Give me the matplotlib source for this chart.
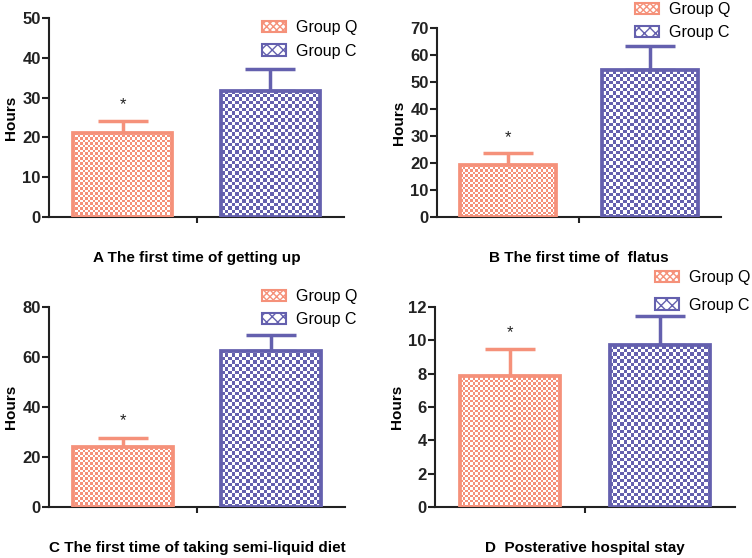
import numpy as np
import matplotlib
matplotlib.use('Agg')
import matplotlib.pyplot as plt
import matplotlib.patches as mpatches
from matplotlib.colors import to_rgb

plt.rcParams['font.family'] = ['Liberation Sans', 'DejaVu Sans']

groups = ['Group Q', 'Group C']
titles = ['A The first time of getting up',
          'B The first time of  flatus',
          'C The first time of taking semi-liquid diet',
          'D  Posterative hospital stay']
mean_q = [21.2, 19.3, 23.9, 7.88]
mean_c = [31.7, 54.4, 62.6, 9.72]
sd_q = [3.0, 4.3, 3.9, 1.6]
sd_c = [5.5, 9.0, 6.3, 1.72]
y_max = [50, 70, 80, 12]
y_step = [10, 10, 20, 2]

col_q = '#F5917A'
col_c = '#6460AE'

W, H = 752, 558
# axes boxes in pixels: left, top, right, bottom
boxes = [(49, 18, 344, 217), (437, 28, 721, 217),
         (49, 307, 345, 507), (435, 307, 735, 507)]
# legend anchor (pixel) and row spacing
leg_pos = [(262, 20), (635, 2), (262, 289), (655, 270)]
leg_space = [0.55, 0.5, 0.5, 0.8]


def checker(ax, rect, color, cell):
    x0, y0 = rect.get_x(), rect.get_y()
    w, h = rect.get_width(), rect.get_height()
    p0 = ax.transData.transform((x0, y0))
    p1 = ax.transData.transform((x0 + w, y0 + h))
    nx = max(1, int(round((p1[0] - p0[0]) / cell)))
    ny = max(1, int(round((p1[1] - p0[1]) / cell)))
    ii, jj = np.indices((ny, nx))
    img = np.ones((ny, nx, 3))
    img[(ii + jj) % 2 == 0] = to_rgb(color)
    ax.imshow(img, extent=(x0, x0 + w, y0, y0 + h), aspect='auto',
              interpolation='nearest', origin='lower', zorder=2)


fig = plt.figure(figsize=(W / 100, H / 100), dpi=100)

for i in range(4):
    l, t, r, b = boxes[i]
    ax = fig.add_axes([l / W, 1 - b / H, (r - l) / W, (b - t) / H])
    ax.set_xlim(-0.5, 1.5)
    ax.set_ylim(0, y_max[i])

    x = np.array([0, 1])
    bars = ax.bar(x, [mean_q[i], mean_c[i]], width=0.67, facecolor='none',
                  edgecolor=[col_q, col_c], linewidth=2.7, zorder=3)
    checker(ax, bars[0], col_q, 2.5)
    checker(ax, bars[1], col_c, 3.5)

    ax.errorbar([0], [mean_q[i]], yerr=[[0], [sd_q[i]]], fmt='none', ecolor=col_q,
                elinewidth=2.5, capsize=18, capthick=2.5, zorder=1)
    ax.errorbar([1], [mean_c[i]], yerr=[[0], [sd_c[i]]], fmt='none', ecolor=col_c,
                elinewidth=2.5, capsize=18, capthick=2.5, zorder=1)
    ax.text(0, mean_q[i] + sd_q[i] + 0.06 * y_max[i], '*', ha='center',
            va='baseline', fontsize=12, color='#222222')

    ax.set_xlim(-0.5, 1.5)
    ax.set_ylim(0, y_max[i])
    ax.set_yticks(np.arange(0, y_max[i] + 0.1, y_step[i]))
    ax.set_xticks([0.5])
    ax.set_xticklabels([''])
    for lab in ax.get_yticklabels():
        lab.set_fontweight('bold')
    ax.tick_params(axis='y', direction='out', length=5, width=1.5, labelsize=12,
                   pad=1, colors='#222222')
    ax.tick_params(axis='x', direction='out', length=4, width=1.5, colors='#222222')
    for s in ['top', 'right']:
        ax.spines[s].set_visible(False)
    for s in ['left', 'bottom']:
        ax.spines[s].set_linewidth(1.5)
        ax.spines[s].set_color('#222222')

    ax.set_ylabel('Hours', fontsize=11, fontweight='bold', labelpad=3)
    ax.set_xlabel(titles[i], fontsize=11, fontweight='bold', labelpad=17)

    handles = [mpatches.Patch(facecolor='white', edgecolor=col_q, hatch='xxxxx', linewidth=1.5),
               mpatches.Patch(facecolor='white', edgecolor=col_c, hatch='xxx', linewidth=1.5)]
    lx, ly = leg_pos[i]
    ax.legend(handles, groups, loc='upper left', bbox_to_anchor=(lx / W, 1 - ly / H),
              bbox_transform=fig.transFigure, frameon=False, fontsize=11.5,
              borderpad=0, borderaxespad=0, handlelength=1.5, handleheight=0.75,
              handletextpad=0.65, labelspacing=leg_space[i])

fig.savefig('out.png', dpi=100)
